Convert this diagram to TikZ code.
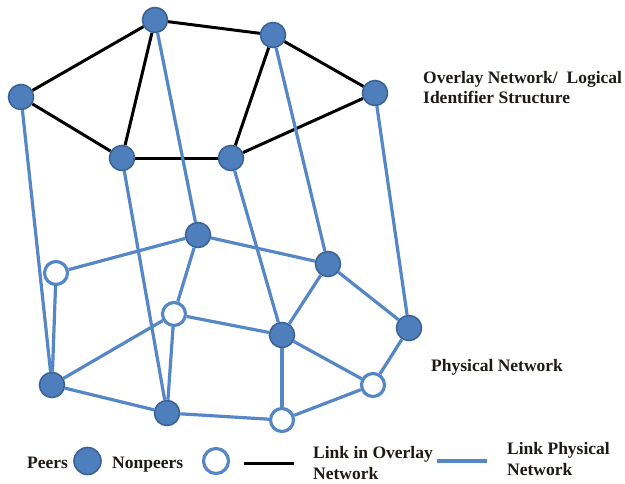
\documentclass[tikz,border=0pt]{standalone}
\usepackage{fontspec}
\setmainfont{Liberation Serif}
\definecolor{peerblue}{HTML}{4F7EBC}
\definecolor{peerline}{HTML}{3A6396}
\definecolor{linkblue}{HTML}{5587C6}
\definecolor{labelcol}{HTML}{1E1A16}
\begin{document}
\begin{tikzpicture}[x=1pt,y=-1pt,
  peer/.style={circle,draw=peerline,fill=peerblue,line width=1.6pt,minimum size=25pt,inner sep=0pt},
  nonpeer/.style={circle,draw=linkblue,fill=white,line width=3.2pt,minimum size=23pt,inner sep=0pt},
  overlay/.style={draw=black,line width=3pt},
  phys/.style={draw=linkblue,line width=3.2pt},
  lbl/.style={font=\bfseries\fontsize{17.5}{20.5}\selectfont,text=labelcol,inner sep=0pt,align=left,anchor=base west}]
\useasboundingbox (0,0) rectangle (625,483);

% overlay (logical) layer
\node[peer] (o1) at (21,97) {};
\node[peer] (o2) at (155,20) {};
\node[peer] (o3) at (273,35) {};
\node[peer] (o4) at (375,93) {};
\node[peer] (o5) at (122,158) {};
\node[peer] (o6) at (231,158) {};

% physical layer
\node[peer] (p1) at (198,235) {};
\node[peer] (p2) at (328,264) {};
\node[peer] (p3) at (409,328) {};
\node[peer] (p4) at (282,335) {};
\node[peer] (p5) at (52,385) {};
\node[peer] (p6) at (167,413) {};
\node[nonpeer] (n1) at (56,273) {};
\node[nonpeer] (n2) at (174,314) {};
\node[nonpeer] (n3) at (373,385) {};
\node[nonpeer] (n4) at (282,420) {};

% overlay links
\foreach \a/\b in {o1/o2,o1/o5,o2/o3,o2/o5,o3/o6,o3/o4,o4/o6,o5/o6}
  \draw[overlay] (\a) -- (\b);

% peers mapped onto the physical network
\foreach \a/\b in {o1/p5,o2/p1,o5/p6,o6/p4,o3/p2,o4/p3}
  \draw[phys] (\a) -- (\b);

% physical links
\foreach \a/\b in {n1/p1,n1/p5,p1/p2,p1/n2,n2/p4,n2/p5,n2/p6,p2/p4,p2/p3,p4/n3,p3/n3,p4/n4,n3/n4,p5/p6,p6/n4}
  \draw[phys] (\a) -- (\b);

% labels (base anchor sits on the last line)
\node[lbl] (tOverlay) at (423,103.5) {Overlay Network/\ \ Logical\\Identifier Structure};
\node[lbl] (tPhys) at (431,371) {Physical Network};

% legend
\node[lbl] (lPeers) at (27,468) {Peers};
\node[peer,minimum size=27pt] (lPeer) at (87.5,461) {};
\node[lbl] (lNon) at (112,468) {Nonpeers};
\node[nonpeer,minimum size=25pt] (lNonpeer) at (216,461) {};
\coordinate (kA) at (244,463);
\coordinate (kB) at (294,463);
\draw[overlay] (kA) -- (kB);
\node[lbl] (lOver) at (313,479) {Link in Overlay\\Network};
\coordinate (kC) at (437,461);
\coordinate (kD) at (487,461);
\draw[phys] (kC) -- (kD);
\node[lbl] (lPhysLink) at (507,475) {Link Physical\\Network};
\end{tikzpicture}
\end{document}
